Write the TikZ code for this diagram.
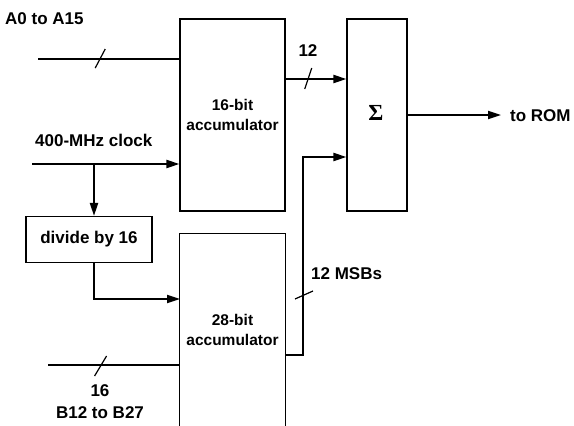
\documentclass[tikz,border=0pt]{standalone}
\usepackage{fontspec}
\setmainfont{Liberation Sans}
\newfontfamily\sigfont{Liberation Serif}
\usetikzlibrary{arrows.meta,calc}
\begin{document}
\begin{tikzpicture}[x=1pt,y=-1pt,
  box/.style={draw,line width=1.1pt,inner sep=0pt,align=center,font=\fontsize{15.5}{20}\selectfont\bfseries},
  lbl/.style={font=\fontsize{17}{20}\selectfont\bfseries,inner sep=0pt},
  wire/.style={line width=1.9pt},
  arr/.style={wire,-{Triangle[length=13pt,width=8pt]}},
  slash/.style={line width=1.2pt}]
\useasboundingbox (0,0) rectangle (574,426);
% boxes
\node[box,minimum width=105pt,minimum height=192pt] (acc16) at (232.5,115) {16-bit\\accumulator};
\node[box,minimum width=60pt,minimum height=192pt] (sig) at (377,115) {};
\node[font=\sigfont\fontsize{23}{23}\selectfont\bfseries,inner sep=0pt] (sigma) at (376,113) {Σ};
\node[box,minimum width=126pt,minimum height=46pt,font=\fontsize{17}{20}\selectfont\bfseries] (div) at (89,239.5) {divide by 16};
\node[box,draw=none,minimum width=105pt,minimum height=192pt] (acc28) at (232.5,330) {28-bit\\accumulator};
\draw[line width=1.1pt] (acc28.south west) |- (acc28.north east) -- (acc28.south east);
% labels
\node[lbl,anchor=west] (la) at (5,19) {A0 to A15};
\node[lbl,anchor=west] (lclk) at (35,140) {400-MHz clock};
\node[lbl] (l12) at (308,51) {12};
\node[lbl,anchor=west] (lmsb) at (311,274) {12 MSBs};
\node[lbl] (l16) at (100,391) {16};
\node[lbl] (lb) at (100,413) {B12 to B27};
\node[lbl,anchor=west] (lrom) at (510,116) {to ROM};
% coordinates
\coordinate (aIn) at (38,59);
\coordinate (clk) at (32,164);
\coordinate (br) at (94,164);
\coordinate (d28) at (180,299);
\coordinate (bIn) at (48,365);
\coordinate (o16) at (285,79);
\coordinate (o28) at (285,355);
\coordinate (k) at (303,157);
\coordinate (rom) at (501,115);
% wires
\draw[wire] (aIn) -- coordinate[pos=0.44] (s1) (aIn -| acc16.west);
\draw[slash] ($(s1)+(-5,9)$) -- ($(s1)+(5,-10)$);
\draw[arr] (clk) -- (clk -| acc16.west);
\draw[arr] (br) -- (br |- div.north);
\draw[arr] (br |- div.south) |- (d28);
\draw[wire] (bIn) -- coordinate[pos=0.4] (s2) (bIn -| acc28.west);
\draw[slash] ($(s2)+(-6,11)$) -- ($(s2)+(6,-9)$);
\draw[arr] (o16) -- coordinate[pos=0.37] (s3) (o16 -| sig.west);
\draw[slash] ($(s3)+(-3,10)$) -- ($(s3)+(4,-11)$);
\draw[arr] (o28) -| (k) -- (k -| sig.west);
\draw[slash] ($(303,296)+(-8,3)$) -- ($(303,296)+(10,-5)$);
\draw[arr] (sig.east) -- (rom);
\end{tikzpicture}
\end{document}
